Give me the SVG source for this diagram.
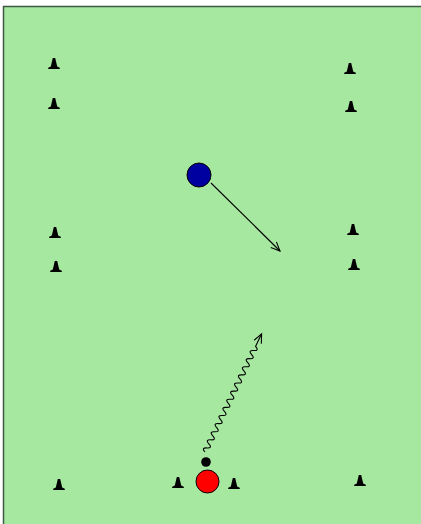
<svg xmlns="http://www.w3.org/2000/svg" xmlns:xlink="http://www.w3.org/1999/xlink" width="421" height="524" viewBox="0 0 421 524">
<style>
.cone{fill:#000}
.conn{fill:none;stroke:#000;stroke-width:1.1}
</style>
<defs>
<path id="cone" d="M-1.2,-11 L1.2,-11 L3.2,-2.5 L5.8,-1.2 L5.8,0 L-5.8,0 L-5.8,-1.2 L-3.2,-2.5 Z"/>
<marker id="arr" markerUnits="userSpaceOnUse" markerWidth="12" markerHeight="12" refX="9" refY="4" orient="auto" overflow="visible">
<path d="M0,0 L9,4 L0,8" fill="none" stroke="#000" stroke-width="1.1"/>
</marker>
</defs>
<rect x="0" y="0" width="421" height="524" fill="#fff"/>
<rect id="field" x="3.5" y="6.5" width="430" height="530" fill="#a6e8a0" stroke="#3e5a44" stroke-width="1.5"/>
<g id="cones" class="cone">
<use id="c1" xlink:href="#cone" x="54" y="69"/>
<use id="c2" xlink:href="#cone" x="54" y="109"/>
<use id="c3" xlink:href="#cone" x="55" y="238"/>
<use id="c4" xlink:href="#cone" x="56" y="272"/>
<use id="c5" xlink:href="#cone" x="350" y="74"/>
<use id="c6" xlink:href="#cone" x="351" y="112"/>
<use id="c7" xlink:href="#cone" x="353" y="235"/>
<use id="c8" xlink:href="#cone" x="354" y="270"/>
<use id="c9" xlink:href="#cone" x="59" y="490"/>
<use id="c10" xlink:href="#cone" x="178" y="488"/>
<use id="c11" xlink:href="#cone" x="234" y="489"/>
<use id="c12" xlink:href="#cone" x="360" y="486"/>
</g>
<g id="connectors">
<path class="conn" d="M211,183 L280,251" marker-end="url(#arr)"/>
<path class="conn" transform="translate(205,452) rotate(-64.4)" d="M0,0 q2.25,-5.5 4.5,0 t4.5,0 t4.5,0 t4.5,0 t4.5,0 t4.5,0 t4.5,0 t4.5,0 t4.5,0 t4.5,0 t4.5,0 t4.5,0 t4.5,0 t4.5,0 t4.5,0 t4.5,0 t4.5,0 t4.5,0 t4.5,0 t4.5,0 t4.5,0 t4.5,0 t4.5,0 t4.5,0 t4.5,0 t4.5,0 l14,0" marker-end="url(#arr)"/>
</g>
<g id="blue-player"><circle cx="199" cy="175" r="12" fill="#0000a0" stroke="#000" stroke-width="1"/></g>
<g id="red-player"><circle cx="207.5" cy="481.5" r="11.5" fill="#ff0000" stroke="#000" stroke-width="1"/></g>
<g id="ball"><circle cx="206" cy="462" r="4.8" fill="#000"/></g>
</svg>
